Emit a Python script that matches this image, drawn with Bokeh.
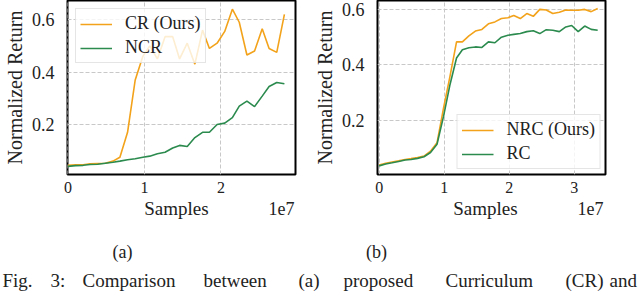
from bokeh.plotting import figure
from bokeh.models import (Range1d, FixedTicker, Legend, LegendItem, Label,
                          GlobalInlineStyleSheet)
from bokeh.layouts import column, row
from bokeh.embed import file_html
from bokeh.resources import INLINE

# ---------------- data (samples in units of 1e7) ----------------
a_samples = [0.00, 0.10, 0.20, 0.29, 0.39, 0.49, 0.59, 0.68, 0.78, 0.88,
             0.98, 1.07, 1.17, 1.27, 1.37, 1.46, 1.56, 1.66, 1.76, 1.85,
             1.95, 2.05, 2.15, 2.24, 2.34, 2.44, 2.54, 2.63, 2.73, 2.83]
cr_return = [0.044, 0.046, 0.046, 0.050, 0.051, 0.052, 0.060, 0.075, 0.170, 0.370,
             0.460, 0.500, 0.450, 0.535, 0.535, 0.450, 0.510, 0.430, 0.560, 0.490,
             0.510, 0.555, 0.640, 0.590, 0.465, 0.480, 0.565, 0.490, 0.475, 0.620]
ncr_return = [0.040, 0.043, 0.044, 0.047, 0.048, 0.052, 0.056, 0.060, 0.065, 0.069,
              0.075, 0.079, 0.088, 0.094, 0.110, 0.120, 0.116, 0.150, 0.170, 0.170,
              0.200, 0.205, 0.226, 0.270, 0.289, 0.268, 0.308, 0.345, 0.360, 0.355]

b_samples = [0.00, 0.10, 0.20, 0.30, 0.40, 0.49, 0.59, 0.69, 0.79, 0.89,
             0.99, 1.09, 1.19, 1.28, 1.38, 1.48, 1.58, 1.68, 1.78, 1.88,
             1.98, 2.07, 2.17, 2.27, 2.37, 2.47, 2.57, 2.67, 2.77, 2.87,
             2.96, 3.06, 3.16, 3.26, 3.36]
nrc_return = [0.040, 0.046, 0.051, 0.055, 0.060, 0.063, 0.067, 0.072, 0.090, 0.120,
              0.245, 0.360, 0.483, 0.483, 0.505, 0.522, 0.528, 0.548, 0.555, 0.567,
              0.570, 0.578, 0.567, 0.585, 0.575, 0.600, 0.598, 0.585, 0.590, 0.598,
              0.597, 0.597, 0.600, 0.592, 0.603]
rc_return = [0.037, 0.044, 0.048, 0.053, 0.058, 0.060, 0.064, 0.070, 0.085, 0.115,
             0.215, 0.330, 0.425, 0.455, 0.462, 0.465, 0.463, 0.483, 0.480, 0.500,
             0.507, 0.510, 0.513, 0.520, 0.523, 0.513, 0.527, 0.525, 0.520, 0.537,
             0.542, 0.520, 0.540, 0.528, 0.525]

a_xticks = [0, 1, 2]
b_xticks = [0, 1, 2, 3]
yticks = [0.2, 0.4, 0.6]

ORANGE = "#F2A31B"
GREEN = "#2B8A4E"
SERIF = "Liberation Serif"
TXT = "#222222"
PANEL_H = 195


def make_panel(width, border_left, border_right, xr, yr, xticks):
    p = figure(width=width, height=PANEL_H, x_range=Range1d(*xr), y_range=Range1d(*yr),
               output_backend="svg", toolbar_location=None,
               min_border_left=border_left, min_border_right=border_right,
               min_border_top=0, min_border_bottom=19)
    p.outline_line_color = "black"
    p.outline_line_width = 2
    p.background_fill_color = "white"
    p.xaxis.ticker = FixedTicker(ticks=xticks)
    p.yaxis.ticker = FixedTicker(ticks=yticks)
    for ax in (p.xaxis[0], p.yaxis[0]):
        ax.axis_line_color = None
        ax.major_tick_line_color = None
        ax.minor_tick_line_color = None
        ax.major_label_text_font = SERIF
        ax.major_label_text_color = TXT
    p.xaxis.major_label_text_font_size = "16px"
    p.yaxis.major_label_text_font_size = "18px"
    p.xaxis.major_label_standoff = 1
    p.yaxis.major_label_standoff = 7
    p.yaxis.axis_label = "Normalized Return"
    p.yaxis.axis_label_text_font = SERIF
    p.yaxis.axis_label_text_font_size = "20px"
    p.yaxis.axis_label_text_font_style = "normal"
    p.yaxis.axis_label_text_color = TXT
    p.yaxis.axis_label_standoff = 3
    for g in (p.xgrid[0], p.ygrid[0]):
        g.grid_line_color = "#c8c8c8"
        g.grid_line_dash = "4 2"
        g.grid_line_width = 1
    return p


# ---------------- panel (a) ----------------
pa = make_panel(310, 57, 15, (-0.005, 2.975), (0.009, 0.673), a_xticks)
r_cr = pa.line(a_samples, cr_return, line_color=ORANGE, line_width=1.6)
r_ncr = pa.line(a_samples, ncr_return, line_color=GREEN, line_width=1.6)
leg_a = Legend(items=[LegendItem(label="CR (Ours)", renderers=[r_cr]),
                      LegendItem(label="NCR", renderers=[r_ncr])],
               location="top_left", margin=8)

# ---------------- panel (b) ----------------
pb = make_panel(330, 55, 35, (-0.025, 3.48), (0.006, 0.632), b_xticks)
r_nrc = pb.line(b_samples, nrc_return, line_color=ORANGE, line_width=1.6)
r_rc = pb.line(b_samples, rc_return, line_color=GREEN, line_width=1.6)
leg_b = Legend(items=[LegendItem(label="NRC (Ours)", renderers=[r_nrc]),
                      LegendItem(label="RC", renderers=[r_rc])],
               location="bottom_right", margin=5)

for p, leg in ((pa, leg_a), (pb, leg_b)):
    leg.label_text_font = SERIF
    leg.label_text_font_size = "18px"
    leg.label_text_color = TXT
    leg.glyph_width = 32
    leg.label_standoff = 13
    leg.padding = 4
    leg.spacing = 3
    leg.border_line_color = "#cccccc"
    leg.border_line_width = 1
    leg.background_fill_color = "white"
    leg.background_fill_alpha = 0.8
    p.add_layout(leg)

# ---------------- strip below the panels: x labels, exponents, captions ----------------
STRIP_TOP = PANEL_H
pc = figure(width=640, height=291 - STRIP_TOP, x_range=Range1d(0, 640),
            y_range=Range1d(291 - STRIP_TOP, 0),
            output_backend="svg", toolbar_location=None,
            min_border=0, min_border_left=0, min_border_right=0,
            min_border_top=0, min_border_bottom=0)
pc.axis.visible = False
pc.grid.visible = False
pc.outline_line_color = None


def add_text(txt, x, y_page, align, size):
    pc.add_layout(Label(x=x, y=y_page - STRIP_TOP, text=txt, text_align=align,
                        text_baseline="middle", text_font=SERIF,
                        text_font_size=size, text_color=TXT))


# x-axis labels and offset texts (y = vertical centre of the text)
add_text("Samples", 176, 207.5, "center", "19px")
add_text("1e7", 294, 207.5, "right", "18px")
add_text("Samples", 485, 207.5, "center", "19px")
add_text("1e7", 603, 207.5, "right", "18px")

add_text("(a)", 122, 251.5, "center", "18px")
add_text("(b)", 376, 251.5, "center", "18px")
caption_words = ["Fig.", "3:", "Comparison", "between", "(a)", "proposed",
                 "Curriculum", "(CR)", "and"]
caption_x = [2, 50, 82, 203, 298, 343, 445, 565, 609]
for w, wx in zip(caption_words, caption_x):
    add_text(w, wx, 280, "left", "19px")

layout = column(row(pa, pb), pc,
                stylesheets=[GlobalInlineStyleSheet(css="html, body { margin: 0; padding: 0; overflow: hidden; }")])

open("out.html", "w").write(file_html(layout, INLINE))
